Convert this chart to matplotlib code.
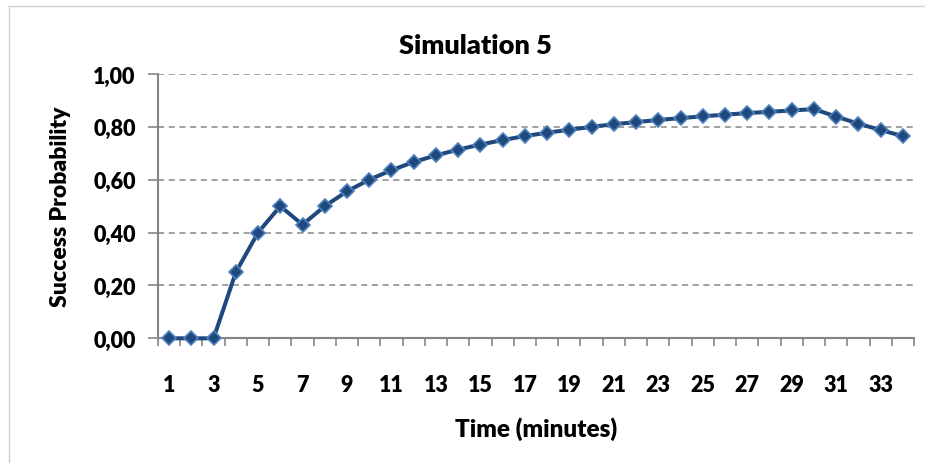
import numpy as np
import matplotlib.pyplot as plt
from matplotlib.ticker import FixedLocator, FuncFormatter

plt.rcParams['font.family'] = ['Lato', 'DejaVu Sans']

minutes = list(range(1, 35))
success = [0.0, 0.0, 0.0, 0.25, 0.40, 0.50, 0.43, 0.50, 0.556, 0.60,
           0.636, 0.667, 0.692, 0.714, 0.733, 0.75, 0.765, 0.778, 0.789, 0.80,
           0.81, 0.818, 0.826, 0.833, 0.84, 0.846, 0.852, 0.857, 0.862, 0.867,
           0.839, 0.812, 0.788, 0.765]
y_ticks = [0.0, 0.2, 0.4, 0.6, 0.8, 1.0]
x_labels = list(range(1, 35, 2))

fig = plt.figure(figsize=(9.25, 4.64), dpi=100)
ax = fig.add_axes([0.1708, 0.2687, 0.8173, 0.5697])

# light frame of the chart area (only left/top visible in the crop)
fig.add_artist(plt.Line2D([9/925, 9/925], [0, 1 - 7/464], transform=fig.transFigure,
                          color='#d0d0d0', lw=1))
fig.add_artist(plt.Line2D([9/925, 1], [1 - 7/464, 1 - 7/464], transform=fig.transFigure,
                          color='#d0d0d0', lw=1))

ax.plot(minutes, success, color='#1F497D', lw=2.9, marker='D', markersize=7,
        markerfacecolor='#1F497D', markeredgecolor='#4F81BD', markeredgewidth=1.2,
        zorder=3, clip_on=False)

ax.set_xlim(0.5, 34.5)
ax.set_ylim(0, 1)
ax.set_yticks(y_ticks)
ax.yaxis.set_major_formatter(FuncFormatter(lambda v, p: f'{v:.2f}'.replace('.', ',')))
ax.xaxis.set_major_locator(FixedLocator(x_labels))
ax.xaxis.set_minor_locator(FixedLocator(np.arange(0.5, 35, 1)))
ax.tick_params(axis='x', which='major', length=0, pad=26)
ax.tick_params(axis='x', which='minor', length=6, width=1.2, color='#868686', direction='out')
ax.tick_params(axis='y', length=7, width=1.2, color='#868686', pad=9)
for lab in ax.get_xticklabels() + ax.get_yticklabels():
    lab.set_fontsize(15.5)
    lab.set_fontweight('heavy')

for s in ['top', 'right']:
    ax.spines[s].set_visible(False)
for s in ['left', 'bottom']:
    ax.spines[s].set_color('#868686')
    ax.spines[s].set_linewidth(1.5)

ax.grid(axis='y', color='#868686', lw=1.1, linestyle=(0, (4, 3)))
ax.set_axisbelow(True)

ax.set_title('Simulation 5', fontsize=19.5, fontweight='heavy', pad=15, x=0.42)
ax.set_xlabel('Time (minutes)', fontsize=17.5, fontweight='heavy', labelpad=15)
ax.set_ylabel('Success Probability', fontsize=16.5, fontweight='heavy', labelpad=16)

fig.savefig('out.png', dpi=100)
